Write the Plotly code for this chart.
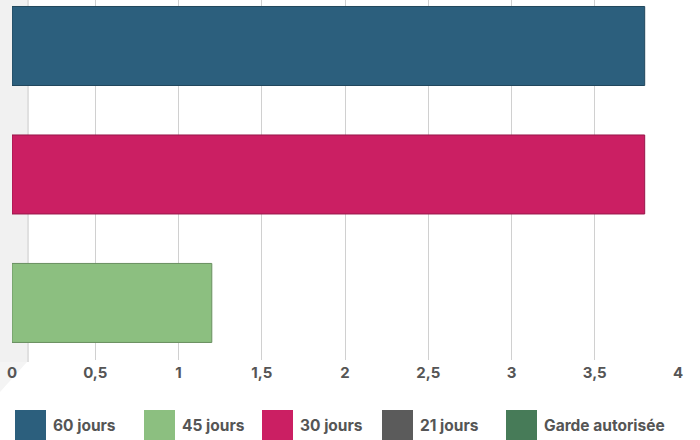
import plotly.graph_objects as go

# ---- data ----
series_names = ["60 jours", "45 jours", "30 jours", "21 jours", "Garde autorisée"]
series_values = [3.8, 1.2, 3.8, None, None]
series_colors = ["#2c5f7d", "#8cbf80", "#cb1f63", "#5b5b5b", "#477b58"]
bar_order = ["60 jours", "30 jours", "45 jours"]   # top to bottom
x_tick_vals = [0, 0.5, 1, 1.5, 2, 2.5, 3, 3.5, 4]
x_tick_text = ["0", "0,5", "1", "1,5", "2", "2,5", "3", "3,5", "4"]

# ---- layout constants (pixels) ----
W, H = 700, 440
L, R, T, B = 12, 22, 0, 80
PW, PH = W - L - R, H - T - B
FONT = "Inter, Roboto, 'Liberation Sans', sans-serif"
TXT = "#555555"

def px(x):
    return (x - L) / PW

def py(y):
    return (H - B - y) / PH

val = dict(zip(series_names, series_values))
col = dict(zip(series_names, series_colors))

def darker(hexc, f=0.75):
    h = hexc.lstrip("#")
    r, g, b = (int(h[i:i + 2], 16) for i in (0, 2, 4))
    return "rgb(%d,%d,%d)" % (r * f, g * f, b * f)

fig = go.Figure()
fig.add_trace(go.Bar(
    orientation="h",
    y=bar_order,
    x=[val[n] for n in bar_order],
    marker=dict(color=[col[n] for n in bar_order],
                line=dict(color=[darker(col[n]) for n in bar_order], width=1)),
    width=0.615,
    showlegend=False,
    hoverinfo="x+y",
))

shapes = [
    # left 3D wall
    dict(type="rect", xref="paper", yref="paper",
         x0=px(0), x1=px(27), y0=py(362), y1=py(0),
         fillcolor="#f1f1f1", line=dict(width=0), layer="below"),
    dict(type="line", xref="paper", yref="paper",
         x0=px(28), x1=px(28), y0=py(362), y1=py(0),
         line=dict(color="#d6d6d6", width=1.5), layer="below"),
    # 3D floor hint at bottom-left
    dict(type="path", xref="paper", yref="paper",
         path="M %f,%f L %f,%f L %f,%f Z" % (px(0), py(362), px(27), py(362), px(0), py(392)),
         fillcolor="#f4f4f4", line=dict(width=0), layer="below"),
]
annotations = []

# manual legend with large squares
legend_x = [15, 144, 262, 382, 506]
sq = 31
for name, x0 in zip(series_names, legend_x):
    shapes.append(dict(type="rect", xref="paper", yref="paper",
                       x0=px(x0), x1=px(x0 + sq), y0=py(441), y1=py(410),
                       fillcolor=col[name], line=dict(width=0)))
    annotations.append(dict(xref="paper", yref="paper", x=px(x0 + sq + 5), y=py(425),
                            text=name, showarrow=False,
                            xanchor="left", yanchor="middle",
                            font=dict(family=FONT, size=15.5, color=TXT, weight="bold")))

fig.update_layout(
    width=W, height=H,
    margin=dict(l=L, r=R, t=T, b=B),
    paper_bgcolor="white", plot_bgcolor="white",
    barmode="relative",
    shapes=shapes,
    annotations=annotations,
    xaxis=dict(range=[0, 4], tickvals=x_tick_vals, ticktext=x_tick_text,
               showgrid=True, gridcolor="#d0d0d0", gridwidth=1,
               zeroline=False, showline=False, ticks="",
               tickfont=dict(family=FONT, size=15, color=TXT, weight="bold"),
               ticklabelstandoff=2, fixedrange=True),
    yaxis=dict(type="category", categoryorder="array", categoryarray=bar_order,
               range=[2.444, -0.358], showticklabels=False, showgrid=False,
               zeroline=False, showline=False, fixedrange=True),
    font=dict(family=FONT, color=TXT),
)

fig.write_html("out.html",
               config={"displayModeBar": False},
               post_script="document.body.style.margin='0';document.body.style.overflow='hidden';")
